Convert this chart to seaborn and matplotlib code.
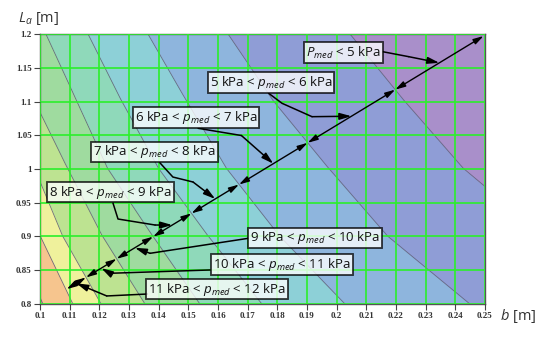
import numpy as np
import pandas as pd
import matplotlib
matplotlib.use('Agg')
import matplotlib.pyplot as plt
import seaborn as sns

# contour lines of p_med: b [m] of each isoline read at these La [m] rows
la_rows = [0.8, 0.9, 1.0, 1.1, 1.2]
b_p13 = [0.1010, 0.0911, 0.0794, 0.0703, 0.0615]
b_p12 = [0.1111, 0.1002, 0.0887, 0.0794, 0.0707]
b_p11 = [0.1206, 0.1077, 0.0983, 0.0887, 0.0796]
b_p10 = [0.1354, 0.1211, 0.1094, 0.0982, 0.0880]
b_p9 = [0.1539, 0.1381, 0.1229, 0.1125, 0.1020]
b_p8 = [0.1748, 0.1568, 0.1401, 0.1276, 0.1162]
b_p7 = [0.2028, 0.1809, 0.1630, 0.1495, 0.1364]
b_p6 = [0.2449, 0.2173, 0.1975, 0.1788, 0.1634]
b_p5 = [0.3000, 0.2702, 0.2429, 0.2230, 0.2045]
isolines = [b_p13, b_p12, b_p11, b_p10, b_p9, b_p8, b_p7, b_p6, b_p5]

# band colours, highest pressure first
band_colors = ['#ee8f96', '#f6c58e', '#eff19c', '#bde391', '#9fdb9f', '#8fd9ba',
               '#8dd0d7', '#8eb5dd', '#8f9dd6', '#a98fca']

# measuring line (b, La) start and end
diag_b = [0.109, 0.2495]
diag_la = [0.822, 1.197]

labels = [r'11 kPa < $p_{med}$ < 12 kPa', r'10 kPa < $p_{med}$ < 11 kPa',
          r'9 kPa < $p_{med}$ < 10 kPa', r'8 kPa < $p_{med}$ < 9 kPa',
          r'7 kPa < $p_{med}$ < 8 kPa', r'6 kPa < $p_{med}$ < 7 kPa',
          r'5 kPa < $p_{med}$ < 6 kPa', r'$P_{med}$ < 5 kPa']

# label box centres and connector bends (data coords)
box_pos = [(0.1597, 0.8222), (0.1816, 0.8585), (0.1927, 0.8978), (0.1238, 0.9659),
           (0.1386, 1.0252), (0.1526, 1.0770), (0.1779, 1.1281), (0.2023, 1.1726)]
bends = [
    [(0.1362, 0.8148), (0.1225, 0.8119)],
    [(0.1573, 0.8504), (0.1236, 0.8455)],
    [(0.1702, 0.8973), (0.1371, 0.8751)],
    [(0.1246, 0.9496), (0.1263, 0.9259), (0.1388, 0.9170)],
    [(0.1404, 1.0093), (0.1448, 0.9881), (0.1516, 0.9807)],
    [(0.1533, 1.0603), (0.1679, 1.0496)],
    [(0.1771, 1.1121), (0.1816, 1.0973), (0.1917, 1.0775)],
    [(0.2155, 1.1738), (0.2243, 1.1664)],
]

sns.set_style('ticks')
plt.rcParams['font.family'] = ['Open Sans', 'DejaVu Sans']
plt.rcParams['mathtext.fontset'] = 'custom'
plt.rcParams['mathtext.rm'] = 'Open Sans'
plt.rcParams['mathtext.it'] = 'Open Sans:italic'

fig = plt.figure(figsize=(5.5, 3.38), dpi=100)
ax = fig.add_axes([0.0727, 0.1006, 0.8091, 0.7988])

# filled bands between isolines
la_f = np.linspace(0.8, 1.2, 300)
edges = [np.full_like(la_f, 0.05)] + [np.interp(la_f, la_rows, b) for b in isolines] \
    + [np.full_like(la_f, 0.35)]
for i in range(len(edges) - 1):
    ax.fill_betweenx(la_f, edges[i], edges[i + 1], color=band_colors[i], lw=0, zorder=1)

for b in isolines:
    d = pd.DataFrame({'b': np.interp(la_f, la_rows, b), 'La': la_f})
    sns.lineplot(data=d, x='b', y='La', sort=False, estimator=None, color='#50506a',
                 lw=0.6, alpha=0.8, ax=ax, zorder=1.5)

# crossings of the measuring line with isolines 11 .. 5
t = np.linspace(0, 1, 4000)
lb = diag_b[0] + t * (diag_b[1] - diag_b[0])
ll = diag_la[0] + t * (diag_la[1] - diag_la[0])
pts = [(diag_b[0], diag_la[0])]
for b in isolines[2:]:
    f = np.interp(ll, la_rows, b) - lb
    k = np.where(np.diff(np.sign(f)) != 0)[0][0]
    pts.append((lb[k], ll[k]))
pts.append((diag_b[1], diag_la[1]))

for p, q in zip(pts[:-1], pts[1:]):
    ax.annotate('', xy=q, xytext=p, zorder=3,
                arrowprops=dict(arrowstyle='<|-|>,head_length=0.6,head_width=0.17',
                                color='black', lw=1.0, shrinkA=0, shrinkB=0,
                                mutation_scale=10))

for i, lab in enumerate(labels):
    p, q = pts[i], pts[i + 1]
    tip = ((p[0] + q[0]) / 2, (p[1] + q[1]) / 2)
    path = bends[i]
    ax.plot([c[0] for c in path], [c[1] for c in path], color='black', lw=1.1, zorder=3)
    ax.annotate('', xy=tip, xytext=path[-1], zorder=3,
                arrowprops=dict(arrowstyle='-|>,head_length=0.7,head_width=0.2',
                                color='black', lw=1.1, shrinkA=0, shrinkB=0,
                                mutation_scale=10))
    ax.text(box_pos[i][0], box_pos[i][1], lab, ha='center', va='center', fontsize=9.5,
            color='#111111', zorder=5,
            bbox=dict(boxstyle='square,pad=0.15', fc='white', alpha=0.78, ec='black', lw=1.3))

ax.set_xlim(0.1, 0.25)
ax.set_ylim(0.8, 1.2)
ax.set_xticks(np.arange(0.1, 0.2501, 0.01))
ax.set_yticks(np.arange(0.8, 1.2001, 0.05))
ax.set_xticklabels(['%g' % round(v, 2) for v in np.arange(0.1, 0.2501, 0.01)])
ax.set_yticklabels(['%g' % round(v, 2) for v in np.arange(0.8, 1.2001, 0.05)])
ax.grid(True, color='#2bef2b', lw=1.2)
ax.set_axisbelow(False)
for lbl in ax.get_xticklabels() + ax.get_yticklabels():
    lbl.set_family('Liberation Serif')
    lbl.set_fontweight('bold')
    lbl.set_fontsize(6.5)
    lbl.set_color('#333333')
ax.tick_params(direction='out', length=4, width=0.8, color='#444444', pad=2)
for s in ax.spines.values():
    s.set_color('#555555')
    s.set_linewidth(1.0)
ax.set_xlabel('')
ax.set_ylabel('')
fig.text(0.033, 0.945, r'$L_a$ [m]', fontsize=10.5, color='#333333', va='center')
fig.text(0.91, 0.065, r'$b$ [m]', fontsize=10.5, color='#333333', va='center')

fig.savefig('out.png', dpi=100)
